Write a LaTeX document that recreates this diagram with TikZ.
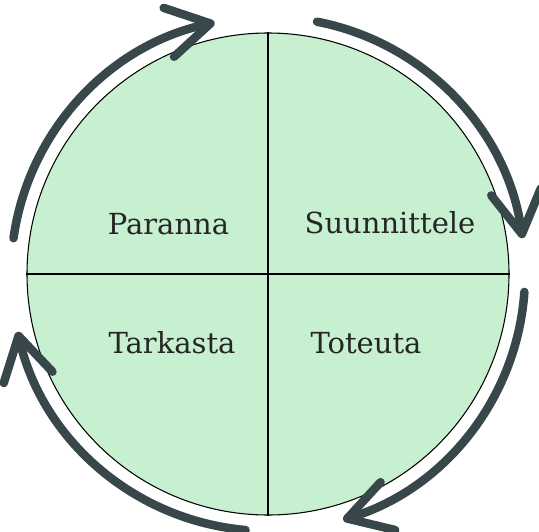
\documentclass[tikz,border=0pt]{standalone}
\usepackage{fontspec}
\setmainfont{DejaVu Serif}
\usetikzlibrary{arrows.meta}
\definecolor{cycdark}{HTML}{37474A}
\definecolor{cycfill}{HTML}{C6F0CF}

\begin{document}
\begin{tikzpicture}[
  phase/.style={draw=black, line width=0.6pt, fill=cycfill, circle, inner sep=0pt, minimum size=9.64cm},
  lbl/.style={font=\fontsize{16.5}{19}\selectfont, text=black!85},
  cycarr/.style={-{Straight Barb[length=0.85cm, width=1.0cm, round]}, line width=0.17cm, line cap=round, draw=cycdark}
]
\useasboundingbox (0,0) rectangle (10.78,10.62);
\coordinate (c) at (5.36,5.14);
\node[phase] (cyc) at (c) {};
\draw[line width=0.6pt] (cyc.north) -- (cyc.south);
\draw[line width=0.6pt] (cyc.west) -- (cyc.east);
\node[lbl] (paranna) at (3.37,6.14) {Paranna};
\node[lbl] (suunn) at (7.80,6.16) {Suunnittele};
\node[lbl] (tarkasta) at (3.44,3.76) {Tarkasta};
\node[lbl] (toteuta) at (7.32,3.76) {Toteuta};
% four arrows around the cycle
\foreach \s/\e in {172/102, 79/8, -4/-73, -95/-167}
  \draw[cycarr] ([shift={(\s:5.14)}]c) arc[start angle=\s, end angle=\e, radius=5.14];
\end{tikzpicture}
\end{document}
